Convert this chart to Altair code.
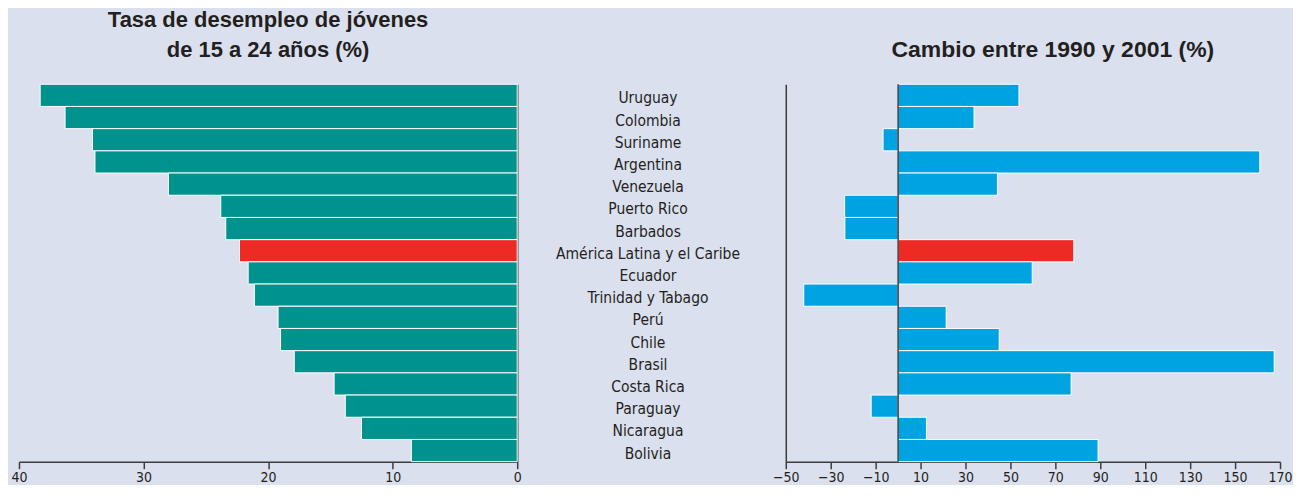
import altair as alt
import pandas as pd

paises = ["Uruguay", "Colombia", "Suriname", "Argentina", "Venezuela", "Puerto Rico",
          "Barbados", "América Latina y el Caribe", "Ecuador", "Trinidad y Tabago", "Perú",
          "Chile", "Brasil", "Costa Rica", "Paraguay", "Nicaragua", "Bolivia"]
tasa = [38.3, 36.3, 34.1, 33.9, 28.0, 23.8, 23.4, 22.3, 21.6, 21.1, 19.2, 19.0, 17.9,
        14.7, 13.8, 12.5, 8.5]
cambio = [53.8, 33.8, -6.7, 161.0, 44.2, -23.8, -23.7, 78.2, 59.7, -42.0, 21.4, 45.0,
          167.4, 77.0, -12.0, 12.6, 89.0]
ticks_izq = [0, 10, 20, 30, 40]
ticks_der = [-50, -30, -10, 10, 30, 50, 70, 90, 110, 130, 150, 170]
resaltado = "América Latina y el Caribe"
titulo_izq = ["Tasa de desempleo de jóvenes", "de 15 a 24 años (%)"]
titulo_der = ["", "Cambio entre 1990 y 2001 (%)"]

df = pd.DataFrame({"pais": paises, "tasa": tasa, "cambio": cambio})

BG = "#DBE0EE"
TEAL = "#00928D"
RED = "#EE2A24"
BLUE = "#00A3E2"
DARK = "#231F20"
AXIS = "#3C3C3C"
NARROW = "DejaVu Sans Condensed, sans-serif"
H = 378

ysc = alt.Scale(domain=paises, paddingInner=0, paddingOuter=0)


def titulo(text, size=22, dx=0):
    return alt.TitleParams(text=text, font="Liberation Sans", fontSize=size, fontWeight="bold",
                           color=DARK, anchor="middle", frame="group", lineHeight=30,
                           offset=22, dx=dx)


def eje_x(vals):
    return alt.Axis(values=vals, title=None, grid=False, domainColor=AXIS, domainWidth=1.5,
                    tickColor=AXIS, tickWidth=1.5, tickSize=7, labelFont=NARROW,
                    labelFontSize=14, labelColor=DARK, labelPadding=2, labelFlush=False)


izq = alt.Chart(df, title=titulo(titulo_izq)).mark_bar(stroke="white", strokeWidth=1).encode(
    y=alt.Y("pais:N", sort=paises, scale=ysc,
            axis=alt.Axis(orient="right", labels=False, ticks=False, title=None,
                          domainColor=AXIS, domainWidth=1.5)),
    x=alt.X("tasa:Q", scale=alt.Scale(domain=[0, 40], reverse=True, nice=False),
            axis=eje_x(ticks_izq)),
    color=alt.condition(alt.datum.pais == resaltado, alt.value(RED), alt.value(TEAL)),
).properties(width=499, height=H)

medio = alt.Chart(df, title=titulo([" ", " "])).mark_text(
    font=NARROW, fontSize=15.5, color=DARK, align="center", baseline="middle", dy=3
).encode(
    y=alt.Y("pais:N", sort=paises, scale=ysc, axis=None),
    x=alt.value(131),
    text="pais:N",
).properties(width=269, height=H)

barras_der = alt.Chart(df).mark_bar(stroke="white", strokeWidth=1).encode(
    y=alt.Y("pais:N", sort=paises, scale=ysc,
            axis=alt.Axis(orient="left", labels=False, ticks=False, title=None,
                          domainColor=AXIS, domainWidth=1.5)),
    x=alt.X("cambio:Q", scale=alt.Scale(domain=[-50, 170], nice=False, zero=False),
            axis=eje_x(ticks_der)),
    color=alt.condition(alt.datum.pais == resaltado, alt.value(RED), alt.value(BLUE)),
)
cero = alt.Chart(pd.DataFrame({"v": [0]})).mark_rule(color=AXIS, strokeWidth=1.5).encode(
    x="v:Q"
)
der = alt.layer(barras_der, cero, title=titulo(titulo_der, size=23, dx=20)).properties(
    width=495, height=H)

chart = alt.hconcat(izq, medio, der, spacing=0, bounds="flush").properties(
    background=BG,
    padding={"left": 2, "top": 0, "right": 0, "bottom": 0},
).configure_view(stroke=None)

chart.save("out.html", embed_options={"renderer": "svg", "actions": False})
